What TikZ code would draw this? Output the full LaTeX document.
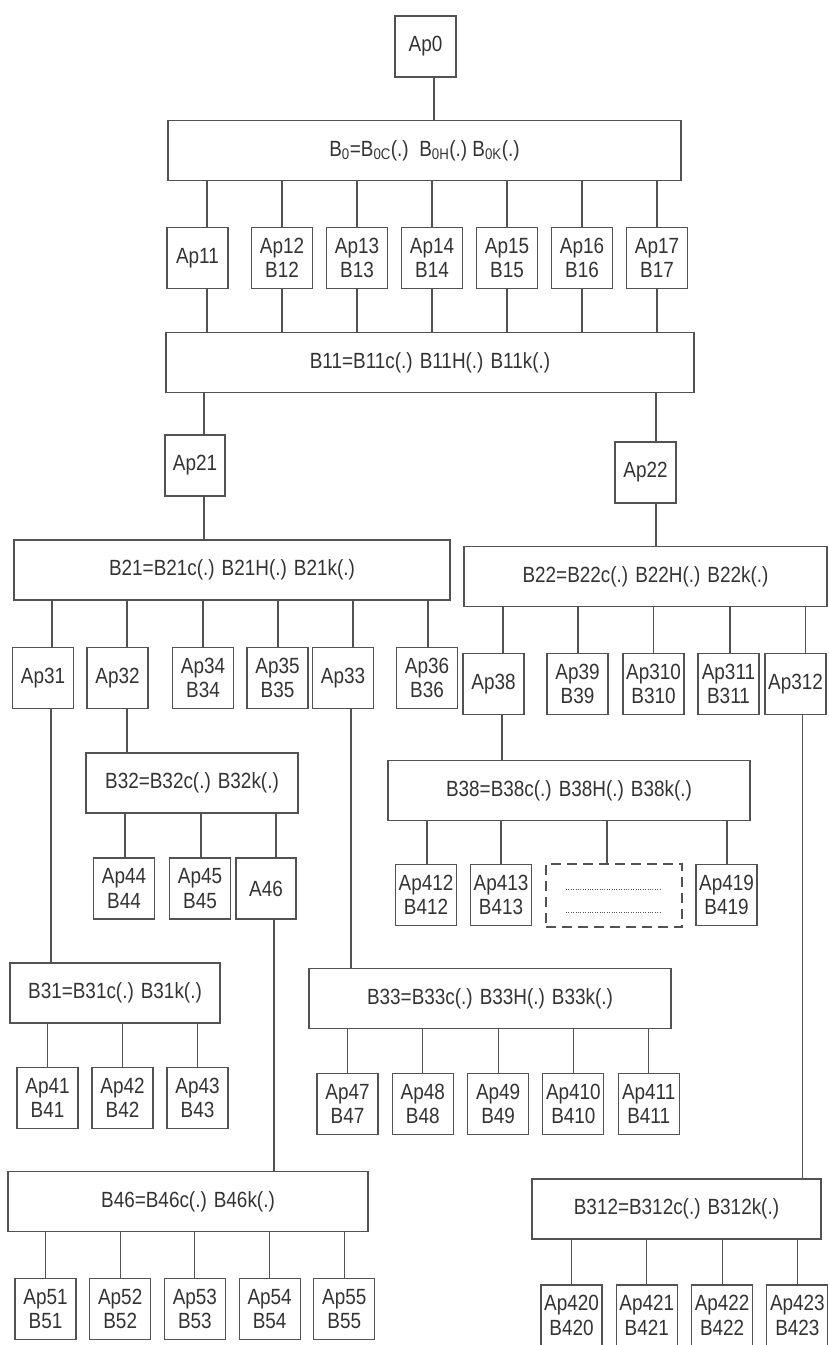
\documentclass[tikz,border=0pt]{standalone}
\usepackage{fontspec}
\setmainfont{Liberation Sans}[FakeStretch=0.86]
\definecolor{trait}{gray}{0.32}
\definecolor{encre}{gray}{0.2}

\begin{document}
\begin{tikzpicture}[
  x=1pt, y=-1pt,
  every node/.style={font=\fontsize{22}{24.5}\selectfont, text=encre},
  boite/.style={draw=trait, line width=1.1pt, minimum width=61pt, minimum height=61pt, inner sep=0pt, align=center},
  bloc/.style={draw=trait, line width=1.1pt, minimum height=60pt, inner sep=0pt},
  lien/.style={draw=trait, line width=1.1pt},
  tirets/.style={boite, dash pattern=on 10pt off 6pt, minimum width=136pt, minimum height=63pt},
  points/.style={draw=trait, line width=0.9pt, dash pattern=on 0.9pt off 1.5pt},
]
  \useasboundingbox (0,0) rectangle (829,1345);

  % Niveau 0
  \node[boite] (Ap0) at (425.5,46.5) {Ap0};
  \node[bloc, minimum width=513pt] (B0) at (424.5,150.5)
    {B\textsubscript{0}=B\textsubscript{0C}(.)~~B\textsubscript{0H}(.)~B\textsubscript{0K}(.)};
  \draw[lien] ([xshift=8.5]Ap0.south) -- ([xshift=8.5]Ap0.south |- B0.north);

  % Niveau 1
  \node[boite] (Ap11) at (197.5,258) {Ap11};
  \foreach \i [count=\k] in {12,...,17}
    \node[boite] (Ap\i) at ({207+75*\k},258) {Ap\i\\B\i};
  \node[bloc, minimum width=528pt] (B11) at (430,362.5) {B11=B11c(.) B11H(.) B11k(.)};
  \foreach \n/\d in {Ap11/9.5,Ap12/0,Ap13/0,Ap14/0,Ap15/0,Ap16/0,Ap17/0}
    \draw[lien] ([xshift=\d]\n.north) -- ([xshift=\d]\n.north |- B0.south)
                ([xshift=\d]\n.south) -- ([xshift=\d]\n.south |- B11.north);

  % Niveau 2
  \node[boite, minimum width=60pt] (Ap21) at (195,465.5) {Ap21};
  \node[boite] (Ap22) at (645.5,472.5) {Ap22};
  \node[bloc, minimum width=436pt] (B21) at (232,570) {B21=B21c(.) B21H(.) B21k(.)};
  \node[bloc, minimum width=363pt] (B22) at (645.5,576.5) {B22=B22c(.) B22H(.) B22k(.)};
  \foreach \n/\d/\p/\q in {Ap21/9/B11/B21,Ap22/10.5/B11/B22}
    \draw[lien] ([xshift=\d]\n.north) -- ([xshift=\d]\n.north |- \p.south)
                ([xshift=\d]\n.south) -- ([xshift=\d]\n.south |- \q.north);

  % Niveau 3
  \foreach \i/\x in {31/43,32/117.5,33/343}
    \node[boite] (Ap\i) at (\x,678) {Ap\i};
  \foreach \i/\x in {34/203,35/277.5,36/427}
    \node[boite] (Ap\i) at (\x,678) {Ap\i\\B\i};
  \node[boite] (Ap38) at (493.5,684) {Ap38};
  \node[boite] (Ap312) at (795.5,684) {Ap312};
  \foreach \i/\x in {39/577.5,310/653.5,311/728.5}
    \node[boite] (Ap\i) at (\x,684) {Ap\i\\B\i};
  \foreach \n/\d in {Ap31/9,Ap32/9.5,Ap34/0,Ap35/0.5,Ap33/10,Ap36/1}
    \draw[lien] ([xshift=\d]\n.north) -- ([xshift=\d]\n.north |- B21.south);
  \foreach \n/\d in {Ap38/9.5,Ap39/0.5,Ap310/0,Ap311/1.5,Ap312/10}
    \draw[lien] ([xshift=\d]\n.north) -- ([xshift=\d]\n.north |- B22.south);

  % Niveau 4 : B32 et B38
  \node[bloc, minimum width=212pt] (B32) at (192,783) {B32=B32c(.) B32k(.)};
  \node[bloc, minimum width=362pt] (B38) at (569,790.5) {B38=B38c(.) B38H(.) B38k(.)};
  \draw[lien] ([xshift=9.5]Ap32.south) -- ([xshift=9.5]Ap32.south |- B32.north);
  \draw[lien] ([xshift=8.5]Ap38.south) -- ([xshift=8.5]Ap38.south |- B38.north);
  \foreach \i/\x in {44/124,45/200}
    \node[boite] (Ap\i) at (\x,888.5) {Ap\i\\B\i};
  \node[boite, minimum width=60pt] (A46) at (266,888.5) {A46};
  \foreach \n/\d in {Ap44/1,Ap45/1,A46/10}
    \draw[lien] ([xshift=\d]\n.north) -- ([xshift=\d]\n.north |- B32.south);
  \foreach \i/\x in {412/426,413/501,419/726.5}
    \node[boite] (Ap\i) at (\x,895) {Ap\i\\B\i};
  \node[tirets] (suite) at (614,895.5) {};
  \draw[points] ([xshift=-48,yshift=6.5]suite.center) -- ([xshift=47,yshift=6.5]suite.center)
                ([xshift=-48,yshift=-16.5]suite.center) -- ([xshift=47,yshift=-16.5]suite.center);
  \foreach \n/\d in {Ap412/1,Ap413/0,suite/-7,Ap419/0.5}
    \draw[lien] ([xshift=\d]\n.north) -- ([xshift=\d]\n.north |- B38.south);

  % Niveau 4 : B31 et B33
  \node[bloc, minimum width=210pt] (B31) at (115,993) {B31=B31c(.) B31k(.)};
  \node[bloc, minimum width=362pt] (B33) at (490,998.5) {B33=B33c(.) B33H(.) B33k(.)};
  \draw[lien] ([xshift=8]Ap31.south) -- ([xshift=8]Ap31.south |- B31.north);
  \draw[lien] ([xshift=8]Ap33.south) -- ([xshift=8]Ap33.south |- B33.north);
  \foreach \i [count=\k from 0] in {41,42,43} {
    \node[boite] (Ap\i) at ({47.5+75*\k},1098) {Ap\i\\B\i};
    \draw[lien] (Ap\i.north) -- (Ap\i.north |- B31.south);
  }
  \foreach \i [count=\k from 0] in {47,48,49,410,411} {
    \node[boite] (Ap\i) at ({347.5+75.3*\k},1104) {Ap\i\\B\i};
    \draw[lien] (Ap\i.north) -- (Ap\i.north |- B33.south);
  }

  % Niveau 5 : B46 et B312
  \node[bloc, minimum width=360pt] (B46) at (188,1201.5) {B46=B46c(.) B46k(.)};
  \node[bloc, minimum width=289pt] (B312) at (676.5,1209) {B312=B312c(.) B312k(.)};
  \draw[lien] ([xshift=8]A46.south) -- ([xshift=8]A46.south |- B46.north);
  \draw[lien] ([xshift=7]Ap312.south) -- ([xshift=7]Ap312.south |- B312.north);
  \foreach \i [count=\k from 0] in {51,...,55} {
    \node[boite] (Ap\i) at ({45.5+74.7*\k},1309) {Ap\i\\B\i};
    \draw[lien] (Ap\i.north) -- (Ap\i.north |- B46.south);
  }
  \foreach \i [count=\k from 0] in {420,...,423} {
    \node[boite] (Ap\i) at ({571.5+75.3*\k},1315.5) {Ap\i\\B\i};
    \draw[lien] (Ap\i.north) -- (Ap\i.north |- B312.south);
  }
\end{tikzpicture}
\end{document}
